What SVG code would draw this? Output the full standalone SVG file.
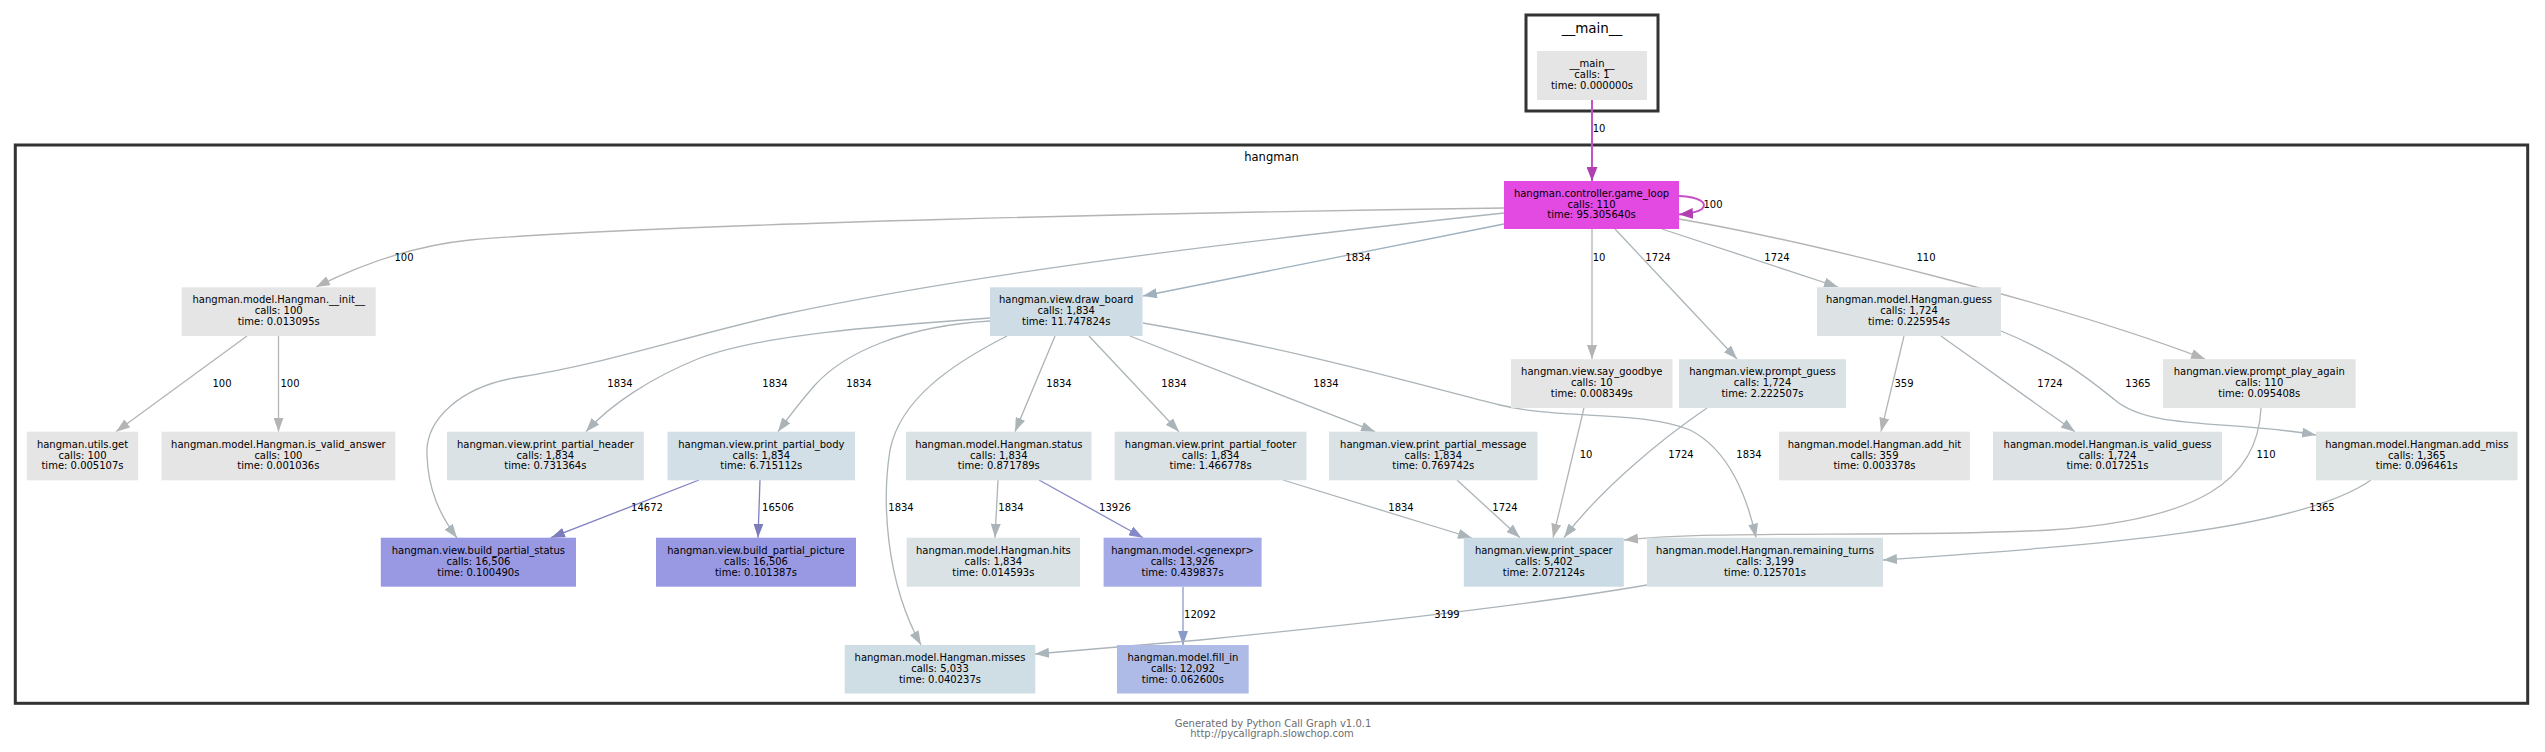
<svg xmlns="http://www.w3.org/2000/svg" width="2545" height="752" viewBox="0 0 2545 752">
<defs>
<style>
text { font-family: "DejaVu Sans", "Liberation Sans", sans-serif; font-size: 10px; fill: #000; }
.n text, .lbl { text-anchor: middle; }
.cl { fill: none; stroke: #333333; stroke-width: 3; }
.ctitle { font-size: 13.5px; text-anchor: middle; }
.ctitle2 { font-size: 11.5px; text-anchor: middle; }
.foot { font-size: 10px; fill: #6e6e6e; text-anchor: middle; }
.e path { fill: none; stroke-width: 1.3; }
.g { stroke: #b4b4b4; marker-end: url(#ag); }
.bg { stroke: #abb4b9; marker-end: url(#abg); }
.bb { stroke: #9fb1bd; marker-end: url(#abb); }
.p { stroke: #7f7fc3; marker-end: url(#ap); }
.p2 { stroke: #8588c8; marker-end: url(#ap2); }
.bl { stroke: #8a9acb; marker-end: url(#abl); }
.m { stroke: #c552c5; marker-end: url(#am); }
.e path.m { stroke-width: 2; }
.grey { fill: #e5e5e5; }
.lg { fill: #dbe2e5; }
.lb { fill: #d3dfe6; }
.mb { fill: #cddce5; }
.pu { fill: #9999e3; }
</style>
<marker id="ag" viewBox="0 0 14 10" refX="14" refY="5" markerWidth="14" markerHeight="10" orient="auto" markerUnits="userSpaceOnUse"><path d="M0,0 L14,5 L0,10 z" fill="#b4b4b4"/></marker>
<marker id="abg" viewBox="0 0 14 10" refX="14" refY="5" markerWidth="14" markerHeight="10" orient="auto" markerUnits="userSpaceOnUse"><path d="M0,0 L14,5 L0,10 z" fill="#abb4b9"/></marker>
<marker id="abb" viewBox="0 0 14 10" refX="14" refY="5" markerWidth="14" markerHeight="10" orient="auto" markerUnits="userSpaceOnUse"><path d="M0,0 L14,5 L0,10 z" fill="#9fb1bd"/></marker>
<marker id="ap" viewBox="0 0 14 10" refX="14" refY="5" markerWidth="14" markerHeight="10" orient="auto" markerUnits="userSpaceOnUse"><path d="M0,0 L14,5 L0,10 z" fill="#7c7cbb"/></marker>
<marker id="ap2" viewBox="0 0 14 10" refX="14" refY="5" markerWidth="14" markerHeight="10" orient="auto" markerUnits="userSpaceOnUse"><path d="M0,0 L14,5 L0,10 z" fill="#8588c8"/></marker>
<marker id="abl" viewBox="0 0 14 10" refX="14" refY="5" markerWidth="14" markerHeight="10" orient="auto" markerUnits="userSpaceOnUse"><path d="M0,0 L14,5 L0,10 z" fill="#8a9acb"/></marker>
<marker id="am" viewBox="0 0 14 11" refX="14" refY="5.5" markerWidth="14" markerHeight="11" orient="auto" markerUnits="userSpaceOnUse"><path d="M0,0 L14,5.5 L0,11 z" fill="#b23fb2"/></marker>
</defs>
<rect x="0" y="0" width="2545" height="752" fill="#ffffff"/>

<g id="cluster-main">
<rect class="cl" x="1526" y="15" width="132" height="96"/>
<text class="ctitle" x="1592" y="33">__main__</text>
</g>
<g id="cluster-hangman">
<rect class="cl" x="15.3" y="145" width="2512.4" height="558.3"/>
<text class="ctitle2" x="1271.5" y="161">hangman</text>
</g>

<g id="edges" class="e">
<path class="m" d="M1592,100 L1592,181"/>
<path class="m" d="M1679,196 C1700,197 1708,203 1702,209 C1698,212 1692,213.5 1679,214.5"/>
<path class="g" d="M1504,208 C1200,212 650,224 470,240 C420,245 370,260 316,287"/>
<path class="bg" d="M1504,213 C1300,235 1000,268 780,315 C680,338 600,365 520,377 C460,386 425,420 427,455 C428,490 440,515 457,538"/>
<path class="bb" d="M1504,224 L1143,296"/>
<path class="g" d="M1592,229 L1592,359"/>
<path class="bg" d="M1615,229 L1737,359"/>
<path class="bg" d="M1662,229 L1838,287"/>
<path class="g" d="M1679,219 C1800,240 2050,300 2205,359"/>
<path class="g" d="M247,336 L116,431.7"/>
<path class="g" d="M278.5,336 L278.5,431.7"/>
<path class="bg" d="M990,318 C880,326 760,335 700,358 C650,378 610,405 586,431.7"/>
<path class="bg" d="M990,321 C905,326 845,352 815,385 C800,402 788,418 778,431.7"/>
<path class="bg" d="M1007,336 C950,365 900,400 890,450 C882,500 885,580 921,645"/>
<path class="bg" d="M1055,336 L1015,431.7"/>
<path class="bg" d="M1089,336 L1179,431.7"/>
<path class="bg" d="M1130,336 L1375,431.7"/>
<path class="bg" d="M1143,323 C1300,350 1420,385 1500,405 C1560,420 1640,410 1690,430 C1730,450 1748,500 1756,537.7"/>
<path class="g" d="M1904,336 L1881,431.7"/>
<path class="bg" d="M1941,336 L2075,431.7"/>
<path class="bg" d="M2001,331 C2060,355 2090,380 2115,400 C2150,430 2230,420 2316,435"/>
<path class="g" d="M1584,408 L1553,537.7"/>
<path class="bg" d="M1707,408 C1660,440 1600,490 1564,537.7"/>
<path class="g" d="M2261,408 C2258,480 2200,520 2050,530 C1900,538 1720,530 1624,540"/>
<path class="p" d="M699,480 L551,537.7"/>
<path class="p" d="M760,480 L758,537.7"/>
<path class="bg" d="M998,480 L995,537.7"/>
<path class="p2" d="M1039,480 L1143,537.7"/>
<path class="bg" d="M1283,480 L1472,538"/>
<path class="bg" d="M1457,480 L1520,537.7"/>
<path class="bg" d="M2371,480 C2300,530 2100,545 1883,560"/>
<path class="bl" d="M1183,587 L1183,645"/>
<path class="bg" d="M1647,585 C1560,600 1400,620 1200,640 C1130,646 1080,650 1035,654"/>
</g>

<g id="edge-labels">
<text class="lbl" x="1599" y="131.5">10</text>
<text class="lbl" x="1713" y="207.5">100</text>
<text class="lbl" x="404" y="260.5">100</text>
<text class="lbl" x="1358" y="260.5">1834</text>
<text class="lbl" x="1599" y="260.5">10</text>
<text class="lbl" x="1658" y="260.5">1724</text>
<text class="lbl" x="1777" y="260.5">1724</text>
<text class="lbl" x="1926" y="260.5">110</text>
<text class="lbl" x="222" y="386.5">100</text>
<text class="lbl" x="290" y="386.5">100</text>
<text class="lbl" x="620" y="386.5">1834</text>
<text class="lbl" x="775" y="386.5">1834</text>
<text class="lbl" x="859" y="386.5">1834</text>
<text class="lbl" x="1059" y="386.5">1834</text>
<text class="lbl" x="1174" y="386.5">1834</text>
<text class="lbl" x="1326" y="386.5">1834</text>
<text class="lbl" x="1904" y="386.5">359</text>
<text class="lbl" x="2050" y="386.5">1724</text>
<text class="lbl" x="2138" y="386.5">1365</text>
<text class="lbl" x="1586" y="457.5">10</text>
<text class="lbl" x="1681" y="457.5">1724</text>
<text class="lbl" x="1749" y="457.5">1834</text>
<text class="lbl" x="2266" y="457.5">110</text>
<text class="lbl" x="647" y="510.5">14672</text>
<text class="lbl" x="778" y="510.5">16506</text>
<text class="lbl" x="901" y="510.5">1834</text>
<text class="lbl" x="1011" y="510.5">1834</text>
<text class="lbl" x="1115" y="510.5">13926</text>
<text class="lbl" x="1401" y="510.5">1834</text>
<text class="lbl" x="1505" y="510.5">1724</text>
<text class="lbl" x="2322" y="510.5">1365</text>
<text class="lbl" x="1200" y="617.5">12092</text>
<text class="lbl" x="1447" y="617.5">3199</text>
</g>

<g id="n-main" class="n"><rect class="grey" x="1537" y="51" width="110" height="49"/><text><tspan x="1592" y="67.2">__main__</tspan><tspan x="1592" y="78.1">calls: 1</tspan><tspan x="1592" y="88.9">time: 0.000000s</tspan></text></g>
<g id="n-game_loop" class="n"><rect x="1504" y="181" width="175" height="48" fill="#e34ae2"/><text><tspan x="1591.5" y="196.7">hangman.controller.game_loop</tspan><tspan x="1591.5" y="207.6">calls: 110</tspan><tspan x="1591.5" y="218.4">time: 95.305640s</tspan></text></g>
<g id="n-init" class="n"><rect class="grey" x="181.7" y="287.3" width="194" height="48.7"/><text><tspan x="278.7" y="303.4">hangman.model.Hangman.__init__</tspan><tspan x="278.7" y="314.3">calls: 100</tspan><tspan x="278.7" y="325.1">time: 0.013095s</tspan></text></g>
<g id="n-draw_board" class="n"><rect class="mb" x="990" y="287.3" width="152.5" height="48.7"/><text><tspan x="1066.2" y="303.4">hangman.view.draw_board</tspan><tspan x="1066.2" y="314.3">calls: 1,834</tspan><tspan x="1066.2" y="325.1">time: 11.747824s</tspan></text></g>
<g id="n-guess" class="n"><rect x="1817" y="287.3" width="184" height="48.7" fill="#dde3e5"/><text><tspan x="1909" y="303.4">hangman.model.Hangman.guess</tspan><tspan x="1909" y="314.3">calls: 1,724</tspan><tspan x="1909" y="325.1">time: 0.225954s</tspan></text></g>
<g id="n-say_goodbye" class="n"><rect class="grey" x="1511" y="359.2" width="161.5" height="48.8"/><text><tspan x="1591.8" y="375.3">hangman.view.say_goodbye</tspan><tspan x="1591.8" y="386.2">calls: 10</tspan><tspan x="1591.8" y="397">time: 0.008349s</tspan></text></g>
<g id="n-prompt_guess" class="n"><rect class="lg" x="1679" y="359.2" width="167" height="48.8"/><text><tspan x="1762.5" y="375.3">hangman.view.prompt_guess</tspan><tspan x="1762.5" y="386.2">calls: 1,724</tspan><tspan x="1762.5" y="397">time: 2.222507s</tspan></text></g>
<g id="n-prompt_play_again" class="n"><rect x="2163" y="359.2" width="192.6" height="48.8" fill="#e3e5e5"/><text><tspan x="2259.3" y="375.3">hangman.view.prompt_play_again</tspan><tspan x="2259.3" y="386.2">calls: 110</tspan><tspan x="2259.3" y="397">time: 0.095408s</tspan></text></g>
<g id="n-utils_get" class="n"><rect class="grey" x="26.8" y="431.7" width="111.4" height="48.6"/><text><tspan x="82.5" y="447.7">hangman.utils.get</tspan><tspan x="82.5" y="458.6">calls: 100</tspan><tspan x="82.5" y="469.4">time: 0.005107s</tspan></text></g>
<g id="n-is_valid_answer" class="n"><rect class="grey" x="161.5" y="431.7" width="233.8" height="48.6"/><text><tspan x="278.4" y="447.7">hangman.model.Hangman.is_valid_answer</tspan><tspan x="278.4" y="458.6">calls: 100</tspan><tspan x="278.4" y="469.4">time: 0.001036s</tspan></text></g>
<g id="n-print_partial_header" class="n"><rect class="lg" x="447" y="431.7" width="196.8" height="48.6"/><text><tspan x="545.4" y="447.7">hangman.view.print_partial_header</tspan><tspan x="545.4" y="458.6">calls: 1,834</tspan><tspan x="545.4" y="469.4">time: 0.731364s</tspan></text></g>
<g id="n-print_partial_body" class="n"><rect class="lb" x="667.5" y="431.7" width="187.5" height="48.6"/><text><tspan x="761.3" y="447.7">hangman.view.print_partial_body</tspan><tspan x="761.3" y="458.6">calls: 1,834</tspan><tspan x="761.3" y="469.4">time: 6.715112s</tspan></text></g>
<g id="n-status" class="n"><rect class="lg" x="906" y="431.7" width="185.5" height="48.6"/><text><tspan x="998.8" y="447.7">hangman.model.Hangman.status</tspan><tspan x="998.8" y="458.6">calls: 1,834</tspan><tspan x="998.8" y="469.4">time: 0.871789s</tspan></text></g>
<g id="n-print_partial_footer" class="n"><rect class="lg" x="1114.7" y="431.7" width="191.8" height="48.6"/><text><tspan x="1210.6" y="447.7">hangman.view.print_partial_footer</tspan><tspan x="1210.6" y="458.6">calls: 1,834</tspan><tspan x="1210.6" y="469.4">time: 1.466778s</tspan></text></g>
<g id="n-print_partial_message" class="n"><rect class="lg" x="1329" y="431.7" width="208.5" height="48.6"/><text><tspan x="1433.3" y="447.7">hangman.view.print_partial_message</tspan><tspan x="1433.3" y="458.6">calls: 1,834</tspan><tspan x="1433.3" y="469.4">time: 0.769742s</tspan></text></g>
<g id="n-add_hit" class="n"><rect class="grey" x="1779" y="431.7" width="191" height="48.6"/><text><tspan x="1874.5" y="447.7">hangman.model.Hangman.add_hit</tspan><tspan x="1874.5" y="458.6">calls: 359</tspan><tspan x="1874.5" y="469.4">time: 0.003378s</tspan></text></g>
<g id="n-is_valid_guess" class="n"><rect x="1993" y="431.7" width="229" height="48.6" fill="#dde3e5"/><text><tspan x="2107.5" y="447.7">hangman.model.Hangman.is_valid_guess</tspan><tspan x="2107.5" y="458.6">calls: 1,724</tspan><tspan x="2107.5" y="469.4">time: 0.017251s</tspan></text></g>
<g id="n-add_miss" class="n"><rect x="2316" y="431.7" width="201.5" height="48.6" fill="#dfe4e5"/><text><tspan x="2416.8" y="447.7">hangman.model.Hangman.add_miss</tspan><tspan x="2416.8" y="458.6">calls: 1,365</tspan><tspan x="2416.8" y="469.4">time: 0.096461s</tspan></text></g>
<g id="n-build_partial_status" class="n"><rect class="pu" x="380.8" y="537.7" width="195.2" height="49"/><text><tspan x="478.4" y="553.9">hangman.view.build_partial_status</tspan><tspan x="478.4" y="564.8">calls: 16,506</tspan><tspan x="478.4" y="575.6">time: 0.100490s</tspan></text></g>
<g id="n-build_partial_picture" class="n"><rect class="pu" x="656" y="537.7" width="200" height="49"/><text><tspan x="756" y="553.9">hangman.view.build_partial_picture</tspan><tspan x="756" y="564.8">calls: 16,506</tspan><tspan x="756" y="575.6">time: 0.101387s</tspan></text></g>
<g id="n-hits" class="n"><rect class="lg" x="906.7" y="537.7" width="173.3" height="49"/><text><tspan x="993.4" y="553.9">hangman.model.Hangman.hits</tspan><tspan x="993.4" y="564.8">calls: 1,834</tspan><tspan x="993.4" y="575.6">time: 0.014593s</tspan></text></g>
<g id="n-genexpr" class="n"><rect x="1103.6" y="537.7" width="158" height="49" fill="#a4abe6"/><text><tspan x="1182.6" y="553.9">hangman.model.&lt;genexpr&gt;</tspan><tspan x="1182.6" y="564.8">calls: 13,926</tspan><tspan x="1182.6" y="575.6">time: 0.439837s</tspan></text></g>
<g id="n-print_spacer" class="n"><rect x="1463.8" y="537.7" width="160" height="49" fill="#cbdbe5"/><text><tspan x="1543.8" y="553.9">hangman.view.print_spacer</tspan><tspan x="1543.8" y="564.8">calls: 5,402</tspan><tspan x="1543.8" y="575.6">time: 2.072124s</tspan></text></g>
<g id="n-remaining_turns" class="n"><rect x="1647" y="537.7" width="236" height="49" fill="#d6e0e5"/><text><tspan x="1765" y="553.9">hangman.model.Hangman.remaining_turns</tspan><tspan x="1765" y="564.8">calls: 3,199</tspan><tspan x="1765" y="575.6">time: 0.125701s</tspan></text></g>
<g id="n-misses" class="n"><rect x="844.7" y="645" width="190.6" height="48.5" fill="#cfdde5"/><text><tspan x="940" y="660.9">hangman.model.Hangman.misses</tspan><tspan x="940" y="671.8">calls: 5,033</tspan><tspan x="940" y="682.6">time: 0.040237s</tspan></text></g>
<g id="n-fill_in" class="n"><rect x="1117" y="645" width="131.7" height="48.5" fill="#aebbe6"/><text><tspan x="1182.9" y="660.9">hangman.model.fill_in</tspan><tspan x="1182.9" y="671.8">calls: 12,092</tspan><tspan x="1182.9" y="682.6">time: 0.062600s</tspan></text></g>

<g id="footer">
<text class="foot" x="1273" y="726.5">Generated by Python Call Graph v1.0.1</text>
<text class="foot" x="1272" y="736.5">http://pycallgraph.slowchop.com</text>
</g>
</svg>
